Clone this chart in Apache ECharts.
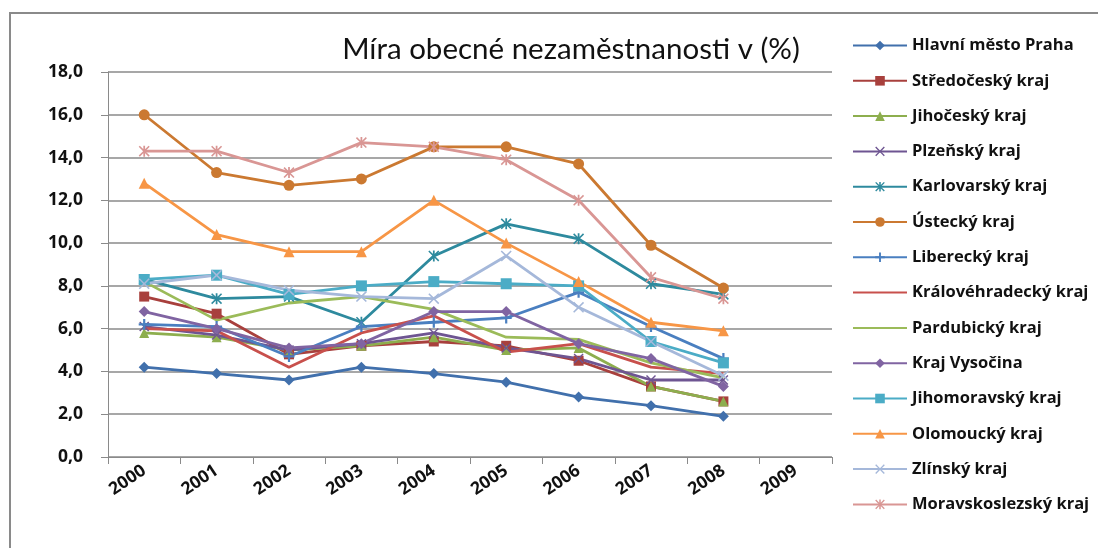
<!DOCTYPE html>
<html>
<head>
<meta charset="utf-8">
<script src="https://cdn.jsdelivr.net/npm/echarts@6/dist/echarts.min.js"></script>
<style>
  html, body { margin: 0; padding: 0; background: #fff; }
  #chart { width: 1098px; height: 548px; }
</style>
</head>
<body>
<div id="chart"></div>
<script>
// roky na ose x (2009 je bez dat)
const years = ['2000', '2001', '2002', '2003', '2004', '2005', '2006', '2007', '2008', '2009'];

const praha          = [4.2, 3.9, 3.6, 4.2, 3.9, 3.5, 2.8, 2.4, 1.9];
const stredocesky    = [7.5, 6.7, 4.8, 5.2, 5.4, 5.2, 4.5, 3.3, 2.6];
const jihocesky      = [5.8, 5.6, 5.0, 5.2, 5.6, 5.0, 5.1, 3.3, 2.6];
const plzensky       = [6.1, 5.7, 5.0, 5.3, 5.8, 5.1, 4.6, 3.6, 3.6];
const karlovarsky    = [8.3, 7.4, 7.5, 6.3, 9.4, 10.9, 10.2, 8.1, 7.6];
const ustecky        = [16.0, 13.3, 12.7, 13.0, 14.5, 14.5, 13.7, 9.9, 7.9];
const liberecky      = [6.2, 6.1, 4.7, 6.1, 6.3, 6.5, 7.7, 6.1, 4.6];
const kralovehradec  = [6.0, 5.9, 4.2, 5.8, 6.6, 4.9, 5.3, 4.2, 3.9];
const pardubicky     = [8.2, 6.4, 7.2, 7.5, 6.9, 5.6, 5.5, 4.4, 3.7];
const vysocina       = [6.8, 6.0, 5.1, 5.3, 6.8, 6.8, 5.3, 4.6, 3.3];
const jihomoravsky   = [8.3, 8.5, 7.6, 8.0, 8.2, 8.1, 8.0, 5.4, 4.4];
const olomoucky      = [12.8, 10.4, 9.6, 9.6, 12.0, 10.0, 8.2, 6.3, 5.9];
const zlinsky        = [8.1, 8.5, 7.8, 7.5, 7.4, 9.4, 7.0, 5.4, 3.8];
const moravskoslezsky = [14.3, 14.3, 13.3, 14.7, 14.5, 13.9, 12.0, 8.4, 7.4];

// značky ve stylu Excelu
const X_MARK = 'path://M1,0 L5,4 L9,0 L10,1 L6,5 L10,9 L9,10 L5,6 L1,10 L0,9 L4,5 L0,1 Z';
const PLUS_MARK = 'path://M4,0 L6,0 L6,4 L10,4 L10,6 L6,6 L6,10 L4,10 L4,6 L0,6 L0,4 L4,4 Z';
const STAR_MARK = 'path://M1,0 L5,4 L9,0 L10,1 L6,5 L10,9 L9,10 L5,6 L1,10 L0,9 L4,5 L0,1 Z M4.2,0 L5.8,0 L5.8,10 L4.2,10 Z';

function line(name, data, color, symbol, size) {
  return {
    name: name,
    type: 'line',
    data: data,
    symbol: symbol,
    symbolSize: size,
    showSymbol: symbol !== 'none',
    lineStyle: { width: 2.8, color: color },
    itemStyle: { color: color },
    emphasis: { disabled: true }
  };
}

const series = [
  line('Hlavní město Praha', praha, '#4170AC', 'diamond', 11),
  line('Středočeský kraj', stredocesky, '#A8403D', 'rect', 10),
  line('Jihočeský kraj', jihocesky, '#8DAE4E', 'triangle', 10),
  line('Plzeňský kraj', plzensky, '#6E5592', X_MARK, 10),
  line('Karlovarský kraj', karlovarsky, '#2E8A9E', STAR_MARK, 11),
  line('Ústecký kraj', ustecky, '#CB7931', 'circle', 11),
  line('Liberecký kraj', liberecky, '#4A7FC0', PLUS_MARK, 11),
  line('Královéhradecký kraj', kralovehradec, '#C8504C', 'none', 0),
  line('Pardubický kraj', pardubicky, '#9BBB59', 'none', 0),
  line('Kraj Vysočina', vysocina, '#8064A2', 'diamond', 11),
  line('Jihomoravský kraj', jihomoravsky, '#4BACC6', 'rect', 11),
  line('Olomoucký kraj', olomoucky, '#F79646', 'triangle', 11),
  line('Zlínský kraj', zlinsky, '#A5B8DA', X_MARK, 11),
  line('Moravskoslezský kraj', moravskoslezsky, '#D99694', STAR_MARK, 11)
];

// položky legendy; řady bez značek mají v legendě jen čáru
const legendData = series.map(s => s.symbol === 'none'
  ? { name: s.name, itemStyle: { opacity: 0 } }
  : { name: s.name });

const chart = echarts.init(document.getElementById('chart'));

chart.setOption({
  animation: false,
  backgroundColor: '#fff',
  textStyle: { fontFamily: '"Open Sans", Lato, sans-serif' },
  title: {
    text: 'Míra obecné nezaměstnanosti v (%)',
    left: 566,
    top: 29,
    textAlign: 'center',
    textStyle: { fontSize: 29.5, fontWeight: 'normal', color: '#111', fontFamily: 'Lato, sans-serif' }
  },
  graphic: [
    {
      type: 'rect',
      shape: { x: 10, y: 13, width: 1200, height: 700 },
      style: { fill: 'none', stroke: '#8a8a8a', lineWidth: 2 },
      silent: true
    }
  ],
  legend: {
    orient: 'vertical',
    left: 847,
    top: 32,
    itemWidth: 54,
    itemHeight: 12,
    itemGap: 18.3,
    textStyle: { fontSize: 16.5, fontWeight: 'bold', color: '#111', lineHeight: 16 },
    data: legendData
  },
  grid: { left: 108, right: 266, top: 72, bottom: 91 },
  xAxis: {
    type: 'category',
    data: years,
    boundaryGap: true,
    axisLine: { lineStyle: { color: '#8a8a8a', width: 1 } },
    axisTick: { show: true, length: 7, lineStyle: { color: '#8a8a8a' } },
    axisLabel: {
      rotate: 34,
      margin: 12,
      fontSize: 17.5,
      fontWeight: 'bold',
      color: '#111'
    }
  },
  yAxis: {
    type: 'value',
    min: 0,
    max: 18,
    interval: 2,
    axisLine: { show: true, lineStyle: { color: '#8a8a8a', width: 1 } },
    axisTick: { show: true, length: 7, lineStyle: { color: '#8a8a8a' } },
    splitLine: { lineStyle: { color: '#8a8a8a', width: 1.5 } },
    axisLabel: {
      margin: 25,
      fontSize: 17.5,
      fontWeight: 'bold',
      color: '#111',
      formatter: v => v.toFixed(1).replace('.', ',')
    }
  },
  series: series
});
</script>
</body>
</html>
